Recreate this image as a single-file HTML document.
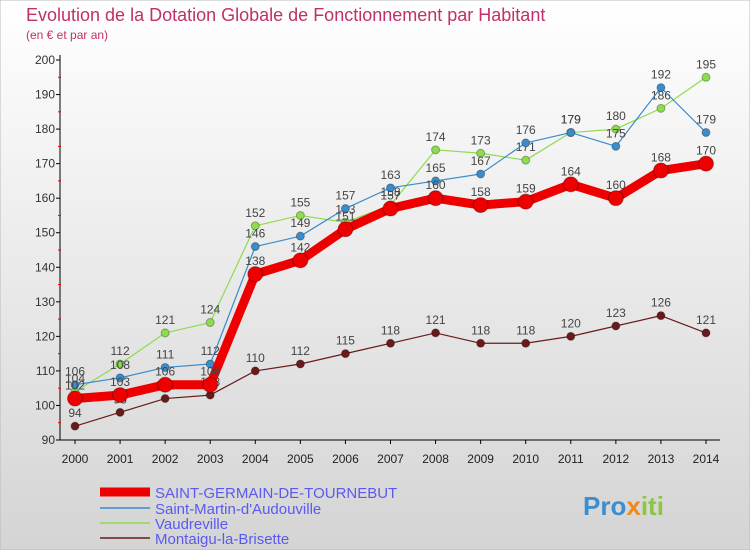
<!DOCTYPE html>
<html><head><meta charset="utf-8"><style>
body{margin:0;width:750px;height:550px;overflow:hidden;font-family:"Liberation Sans",sans-serif;}
</style></head><body>
<svg width="750" height="550" xmlns="http://www.w3.org/2000/svg">
<defs><linearGradient id="bg" x1="0" y1="0" x2="0" y2="1"><stop offset="0" stop-color="#ffffff"/><stop offset="1" stop-color="#d4d4d4"/></linearGradient></defs>
<rect x="0" y="0" width="750" height="550" fill="url(#bg)" stroke="#bbb"/>
<text x="26" y="21" font-size="18" fill="#c0306a">Evolution de la Dotation Globale de Fonctionnement par Habitant</text>
<text x="26" y="39" font-size="12" fill="#c0306a">(en € et par an)</text>
<g id="axes"></g>
<g id="series"></g>
<g id="legend"></g>
<text x="583" y="515" font-size="26" font-weight="bold" fill="#3b8fd0">Pro<tspan fill="#f08a1c">x</tspan><tspan fill="#8dc63f">iti</tspan></text>
</svg>
<script>
const years=[2000,2001,2002,2003,2004,2005,2006,2007,2008,2009,2010,2011,2012,2013,2014];
const yTicks=[90,100,110,120,130,140,150,160,170,180,190,200];
const mainVals=[102,103,106,106,138,142,151,157,160,158,159,164,160,168,170];
const stMartinVals=[106,108,111,112,146,149,157,163,165,167,176,179,175,192,179];
const vaudrevilleVals=[104,112,121,124,152,155,153,158,174,173,171,179,180,186,195];
const montaiguVals=[94,98,102,103,110,112,115,118,121,118,118,120,123,126,121];
const NS="http://www.w3.org/2000/svg";
const xS=i=>75+i*(706-75)/(years.length-1);
const yS=v=>440-(v-90)*(380/110);
function mk(t,a,p){const e=document.createElementNS(NS,t);for(const k in a)e.setAttribute(k,a[k]);p.appendChild(e);return e;}
const ax=document.getElementById('axes');
let yl=mk('line',{x1:60,y1:55,x2:60,y2:440,stroke:'#000'},ax);


let xl=mk('line',{x1:60,y1:440,x2:720,y2:440,stroke:'#000'},ax);


yTicks.forEach(v=>{
 mk('line',{x1:56,y1:yS(v),x2:60,y2:yS(v),stroke:'#000'},ax);
 if(v<200) mk('line',{x1:58,y1:yS(v+5),x2:61,y2:yS(v+5),stroke:'#e00'},ax);
 const t=mk('text',{x:55,y:yS(v)+4,'font-size':12,'text-anchor':'end',fill:'#333'},ax);t.textContent=v;
 
 
});
years.forEach((y,i)=>{
 mk('line',{x1:xS(i),y1:440,x2:xS(i),y2:444,stroke:'#000'},ax);
 const t=mk('text',{x:xS(i),y:463,'font-size':12,'text-anchor':'middle',fill:'#222'},ax);t.textContent=y;
 
 
});
const sg=document.getElementById('series');
function series(vals,color,w,r,name,labelColor){
 const g=mk('g',{},sg);
 
 
 mk('polyline',{points:vals.map((v,i)=>xS(i)+','+yS(v)).join(' '),fill:'none',stroke:color,'stroke-width':w,'stroke-linejoin':'round'},g);
 vals.forEach((v,i)=>{
  const c=mk('circle',{cx:xS(i),cy:yS(v),r:r,fill:color,stroke:'rgba(0,0,0,0.3)','stroke-width':1},g);
  
  
  const t=mk('text',{x:xS(i),y:yS(v)-9,'font-size':12,'text-anchor':'middle',fill:'#444'},g);t.textContent=v;
 });
}
series(montaiguVals,'#6b1a1a',1.2,4,'series-montaigu');
series(vaudrevilleVals,'#8ddc4e',1.2,4,'series-vaudreville');
series(stMartinVals,'#3a8ccc',1.2,4,'series-saint-martin');
series(mainVals,'#ee0000',9,7.5,'series-saint-germain');
const lg=document.getElementById('legend');
[['SAINT-GERMAIN-DE-TOURNEBUT','#ee0000',9,492],['Saint-Martin-d\'Audouville','#3a8ccc',1.5,508],['Vaudreville','#8ddc4e',1.5,523],['Montaigu-la-Brisette','#6b1a1a',1.5,538]].forEach(l=>{
 const g=mk('g',{},lg);
 
 
 mk('line',{x1:100,y1:l[3],x2:150,y2:l[3],stroke:l[1],'stroke-width':l[2]},g);
 const t=mk('text',{x:155,y:l[3]+6,'font-size':15,fill:'#5a5af0'},g);t.textContent=l[0];
});
</script>
</body></html>
